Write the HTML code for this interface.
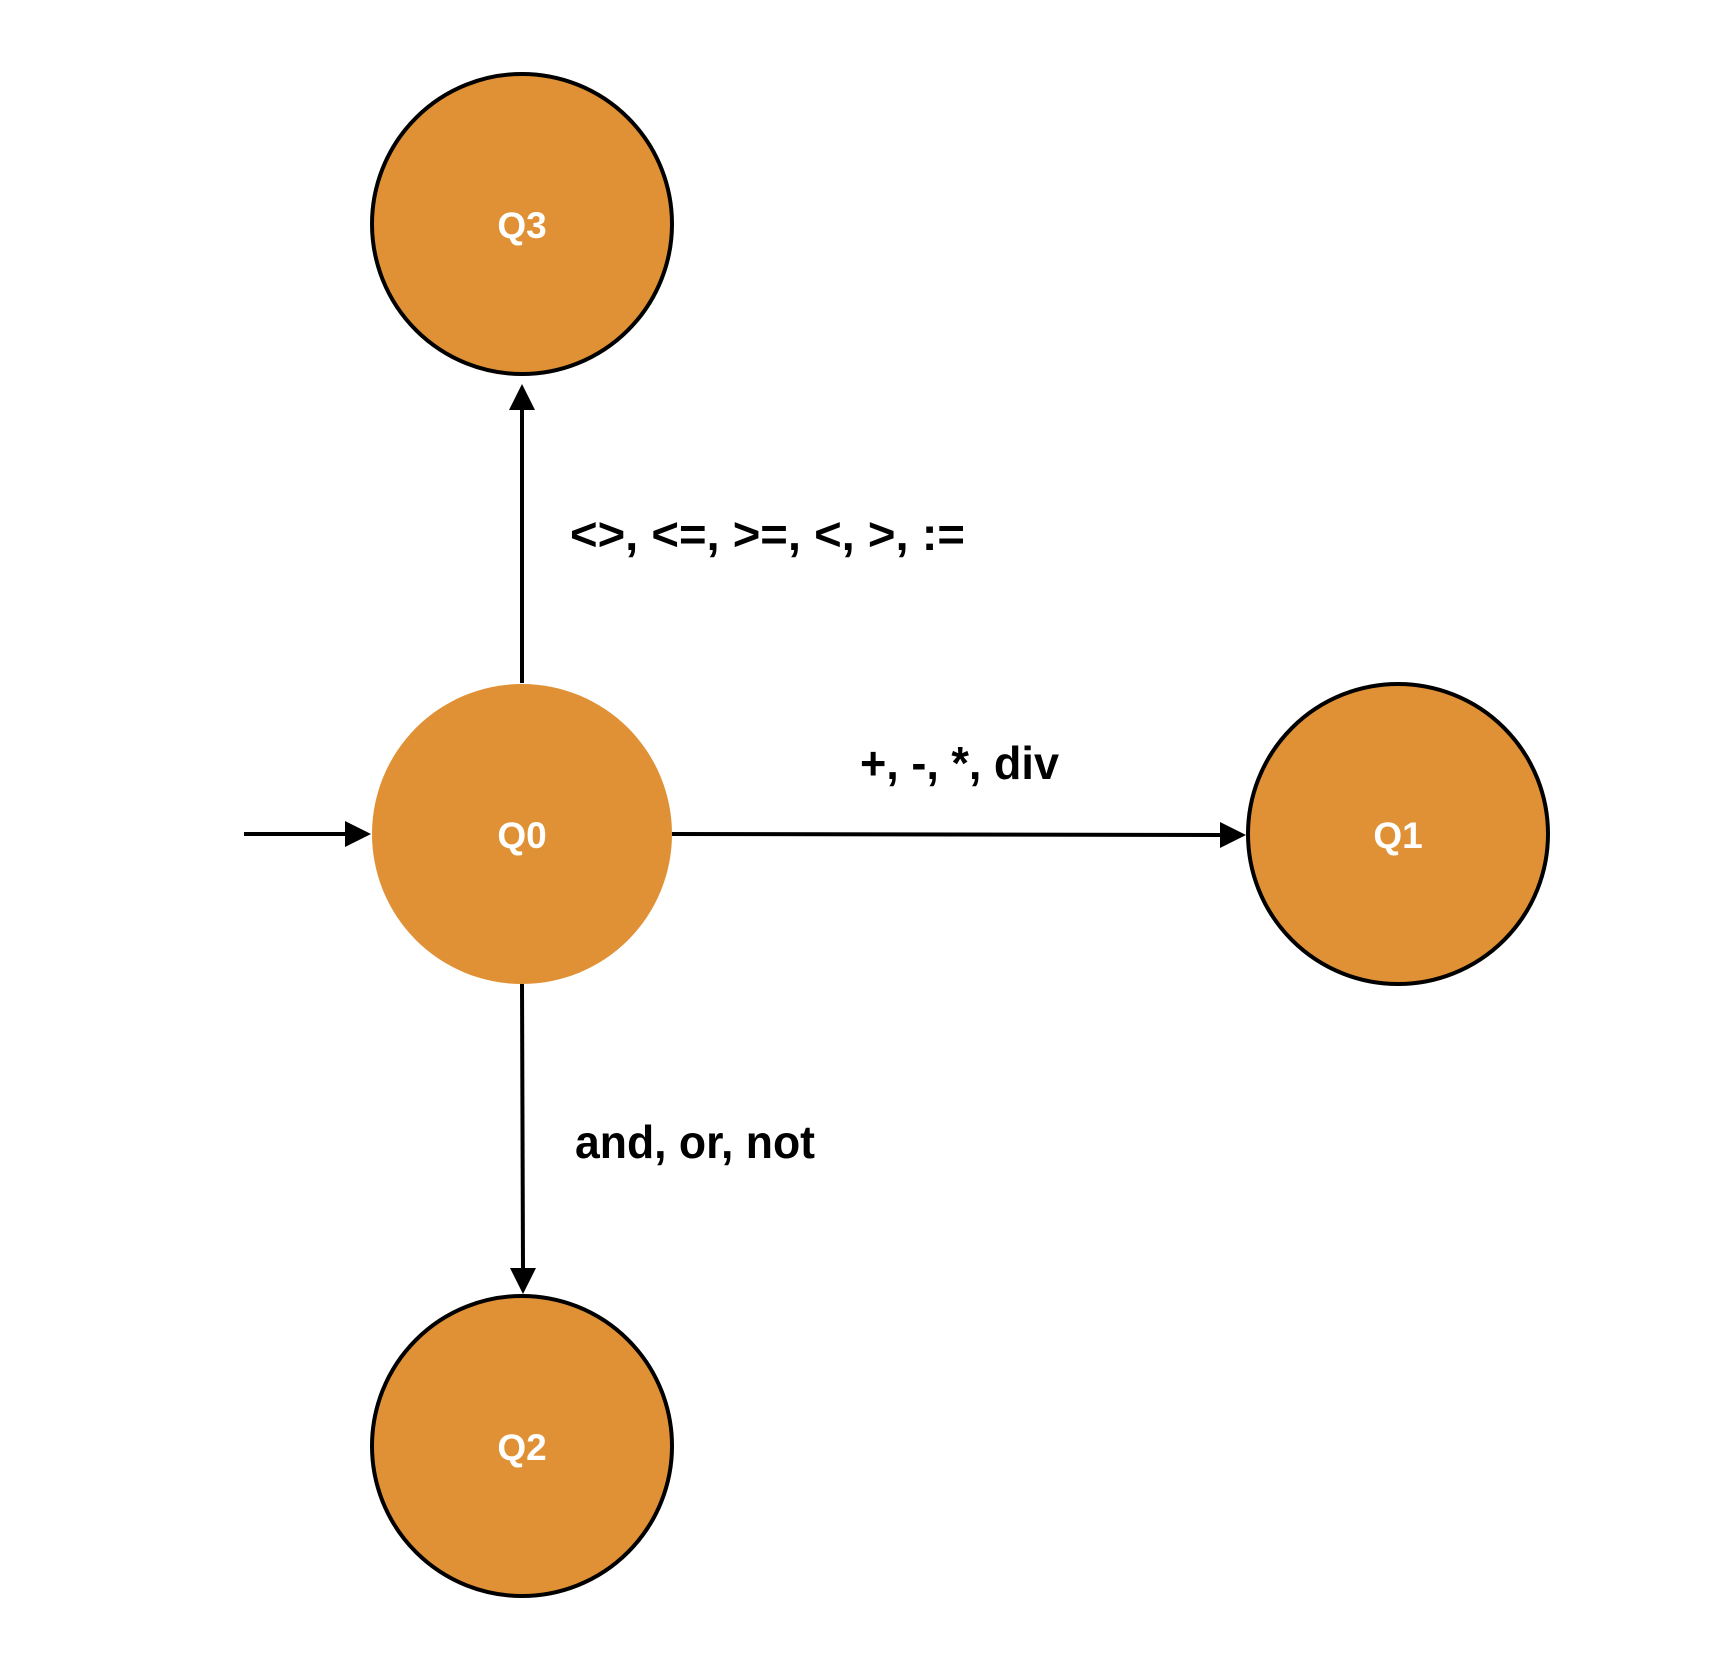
<!DOCTYPE html>
<html><head><meta charset="utf-8"><style>html,body{margin:0;padding:0;background:#fff}svg{display:block}</style></head>
<body>
<svg width="1724" height="1668" viewBox="0 0 1724 1668" xmlns="http://www.w3.org/2000/svg" font-family="Liberation Sans, sans-serif" font-weight="bold">
<rect width="1724" height="1668" fill="#fff"/>
<g fill="#E09135" stroke="#000" stroke-width="4">
<circle cx="522" cy="224" r="150"/>
<circle cx="1398" cy="834" r="150"/>
<circle cx="522" cy="1446" r="150"/>
<circle cx="522" cy="834" r="150" stroke="none"/>
</g>
<g stroke="#000" stroke-width="4" fill="none">
<line x1="244" y1="834" x2="348" y2="834"/>
<line x1="522" y1="683" x2="522" y2="408"/>
<line x1="672" y1="834" x2="1222" y2="835"/>
<line x1="522" y1="984" x2="523" y2="1270"/>
</g>
<g fill="#000">
<polygon points="371,834 345,821 345,847"/>
<polygon points="522,384 509,410 535,410"/>
<polygon points="1246,835 1220,822 1220,848"/>
<polygon points="523,1294 510,1268 536,1268"/>
</g>
<g fill="#fff" font-size="37" text-anchor="middle">
<text x="522" y="238">Q3</text>
<text x="522" y="848">Q0</text>
<text x="1398" y="848">Q1</text>
<text x="522" y="1460">Q2</text>
</g>
<g fill="#000" font-size="46">
<text x="570" y="550" textLength="395" lengthAdjust="spacingAndGlyphs">&lt;&gt;, &lt;=, &gt;=, &lt;, &gt;, :=</text>
<text x="860" y="779" textLength="199" lengthAdjust="spacingAndGlyphs">+, -, *, div</text>
<text x="575" y="1158" textLength="240" lengthAdjust="spacingAndGlyphs">and, or, not</text>
</g>
</svg>
</body></html>
